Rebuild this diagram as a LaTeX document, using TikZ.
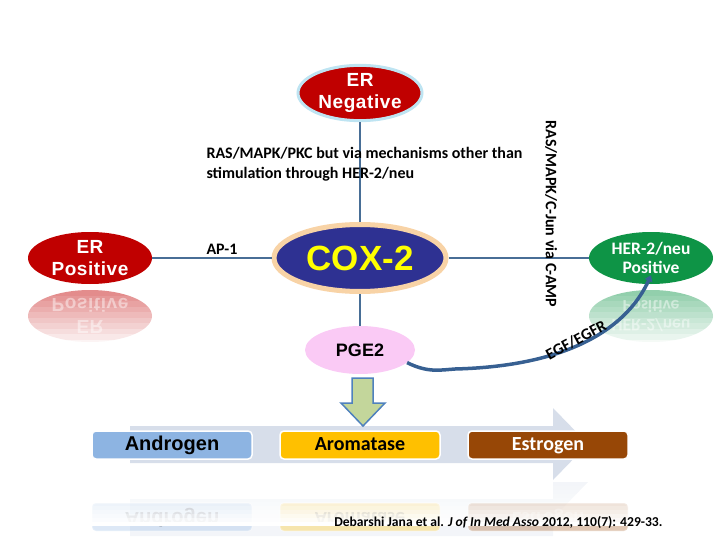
\documentclass[tikz,border=0pt]{standalone}
\usepackage{fontspec}
\setmainfont{Carlito}
\newfontfamily\arialsp[LetterSpace=3]{Liberation Sans}
\newfontfamily\arialplain{Liberation Sans}
\usetikzlibrary{shapes.geometric,arrows.meta}
\definecolor{erred}{RGB}{192,0,0}
\definecolor{coxblue}{RGB}{46,49,146}
\definecolor{coxglow}{RGB}{248,211,166}
\definecolor{negglow}{RGB}{190,228,242}
\definecolor{hergreen}{RGB}{14,148,70}
\definecolor{pgepink}{RGB}{250,202,245}
\definecolor{linkblue}{RGB}{72,110,150}
\definecolor{curveblue}{RGB}{55,96,146}
\definecolor{androblue}{RGB}{141,180,226}
\definecolor{aromagold}{RGB}{255,192,0}
\definecolor{estrobrown}{RGB}{151,71,6}
\definecolor{bandgray}{RGB}{215,222,234}
\definecolor{downgreen}{RGB}{195,214,155}
\definecolor{downblue}{RGB}{79,129,189}
% white strips that fade a reflection out: x1, x2, top y, strip height
\newcommand{\fadeout}[4]{%
	\foreach \i [evaluate=\i as \op using \i/10] in {0,...,10}
		\fill[white, opacity=\op] (#1,#3+\i*#4) rectangle (#2,#3+\i*#4+#4);
}
\tikzset{
	blob/.style={ellipse, inner sep=0pt, minimum width=124pt, minimum height=52pt, align=center},
	redtext/.style={text=white, font=\arialsp\bfseries\fontsize{19}{22}\selectfont},
	hertext/.style={text=white, font=\bfseries\fontsize{17.5}{19}\selectfont},
	link/.style={draw=linkblue, line width=1.3pt},
	bar/.style={rounded corners=4pt, draw=white, line width=1.5pt, minimum width=160pt, minimum height=28pt, inner sep=0pt, text height=14pt, text depth=4pt},
	bartext/.style={font=\bfseries\fontsize{20}{22}\selectfont},
	lbl/.style={font=\bfseries\fontsize{16}{20}\selectfont},
}

\begin{document}
\begin{tikzpicture}[x=1pt,y=-1pt]
	\useasboundingbox (0,0) rectangle (720,540);
	% reflections
	\node[blob, fill=erred, redtext, yscale=-1, opacity=0.45] (erposr) at (90,316) {ER\\Positive};
	\node[blob, fill=hergreen, hertext, yscale=-1, opacity=0.45] (herr) at (651,316) {HER-2/neu\\Positive};
	\begin{scope}[opacity=0.3]
		\fill[bandgray] (130,499) -- (553,499) -- (553,482) -- (588,482) -- (553,518) -- (553,536) -- (130,536) -- cycle;
		\node[bar, fill=androblue, yscale=-1, font=\arialplain\bfseries\fontsize{20}{22}\selectfont] (andror) at (172,517) {Androgen};
		\node[bar, fill=aromagold, yscale=-1, bartext] (aromar) at (360,517) {Aromatase};
		\node[bar, fill=estrobrown, yscale=-1, text=white, bartext] (estror) at (548,517) {Estrogen};
	\end{scope}
	\fadeout{20}{165}{290}{5.5}
	\fadeout{580}{720}{290}{5.5}
	\fadeout{85}{640}{482}{4}
	% nodes
	\node[blob, fill=erred, draw=negglow, line width=3pt, redtext] (erneg) at (360,93) {ER\\Negative};
	\node[blob, fill=erred, redtext] (erpos) at (90,258) {ER\\Positive};
	\node[blob, fill=coxblue, draw=coxglow, line width=5pt, minimum width=172pt, minimum height=67pt, text={rgb,255:red,255;green,255;blue,0}, font=\arialplain\bfseries\fontsize{35}{36}\selectfont] (cox) at (360,258) {COX-2};
	\node[blob, fill=hergreen, hertext] (her) at (651,258) {HER-2/neu\\Positive};
	\node[blob, fill=pgepink, minimum width=110pt, minimum height=48pt, font=\arialplain\bfseries\fontsize{18}{20}\selectfont] (pge) at (360,350) {PGE2};
	\draw[link] (erpos) -- (cox);
	\draw[link] (cox) -- (her);
	\draw[link] (cox) -- (erneg);
	\draw[link] (cox) -- (pge);
	% labels
	\node[lbl, anchor=north west, align=left] (raspkc) at (203,144) {RAS/MAPK/PKC but via mechanisms other than\\stimulation through HER-2/neu};
	\node[lbl, anchor=west] (ap) at (203,249) {AP-1};
	\node[lbl, rotate=-90] (rascjun) at (551,214) {RAS/MAPK/C-Jun via C-AMP};
	% pathway band
	\fill[bandgray] (130,426) -- (553,426) -- (553,408) -- (588,444) -- (553,480) -- (553,463) -- (130,463) -- cycle;
	\node[bar, fill=androblue, font=\arialplain\bfseries\fontsize{20}{22}\selectfont] (andro) at (172,445) {Androgen};
	\node[bar, fill=aromagold, bartext] (aroma) at (360,445) {Aromatase};
	\node[bar, fill=estrobrown, text=white, bartext] (estro) at (548,445) {Estrogen};
	\draw[fill=downgreen, draw=downblue, line width=1.5pt, line join=miter] (352,378) -- (373,378) -- (373,403) -- (385,403) -- (363,426) -- (341,403) -- (352,403) -- cycle;
	% EGF/EGFR
	\draw[curveblue, line width=3.5pt, -{Triangle[length=6pt,width=8pt]}] (pge.-15) .. controls (428,373) and (440,370) .. (455,369) .. controls (572,366) and (628,326) .. ([yshift=9pt]her.south);
	\node[lbl, rotate=28] (egf) at (576,340) {EGF/EGFR};
	\node[font=\bfseries\fontsize{13.6}{15}\selectfont, anchor=east] (cite) at (666,522) {Debarshi Jana et al. \textit{J of In Med Asso} 2012, 110(7): 429-33.};
\end{tikzpicture}
\end{document}
